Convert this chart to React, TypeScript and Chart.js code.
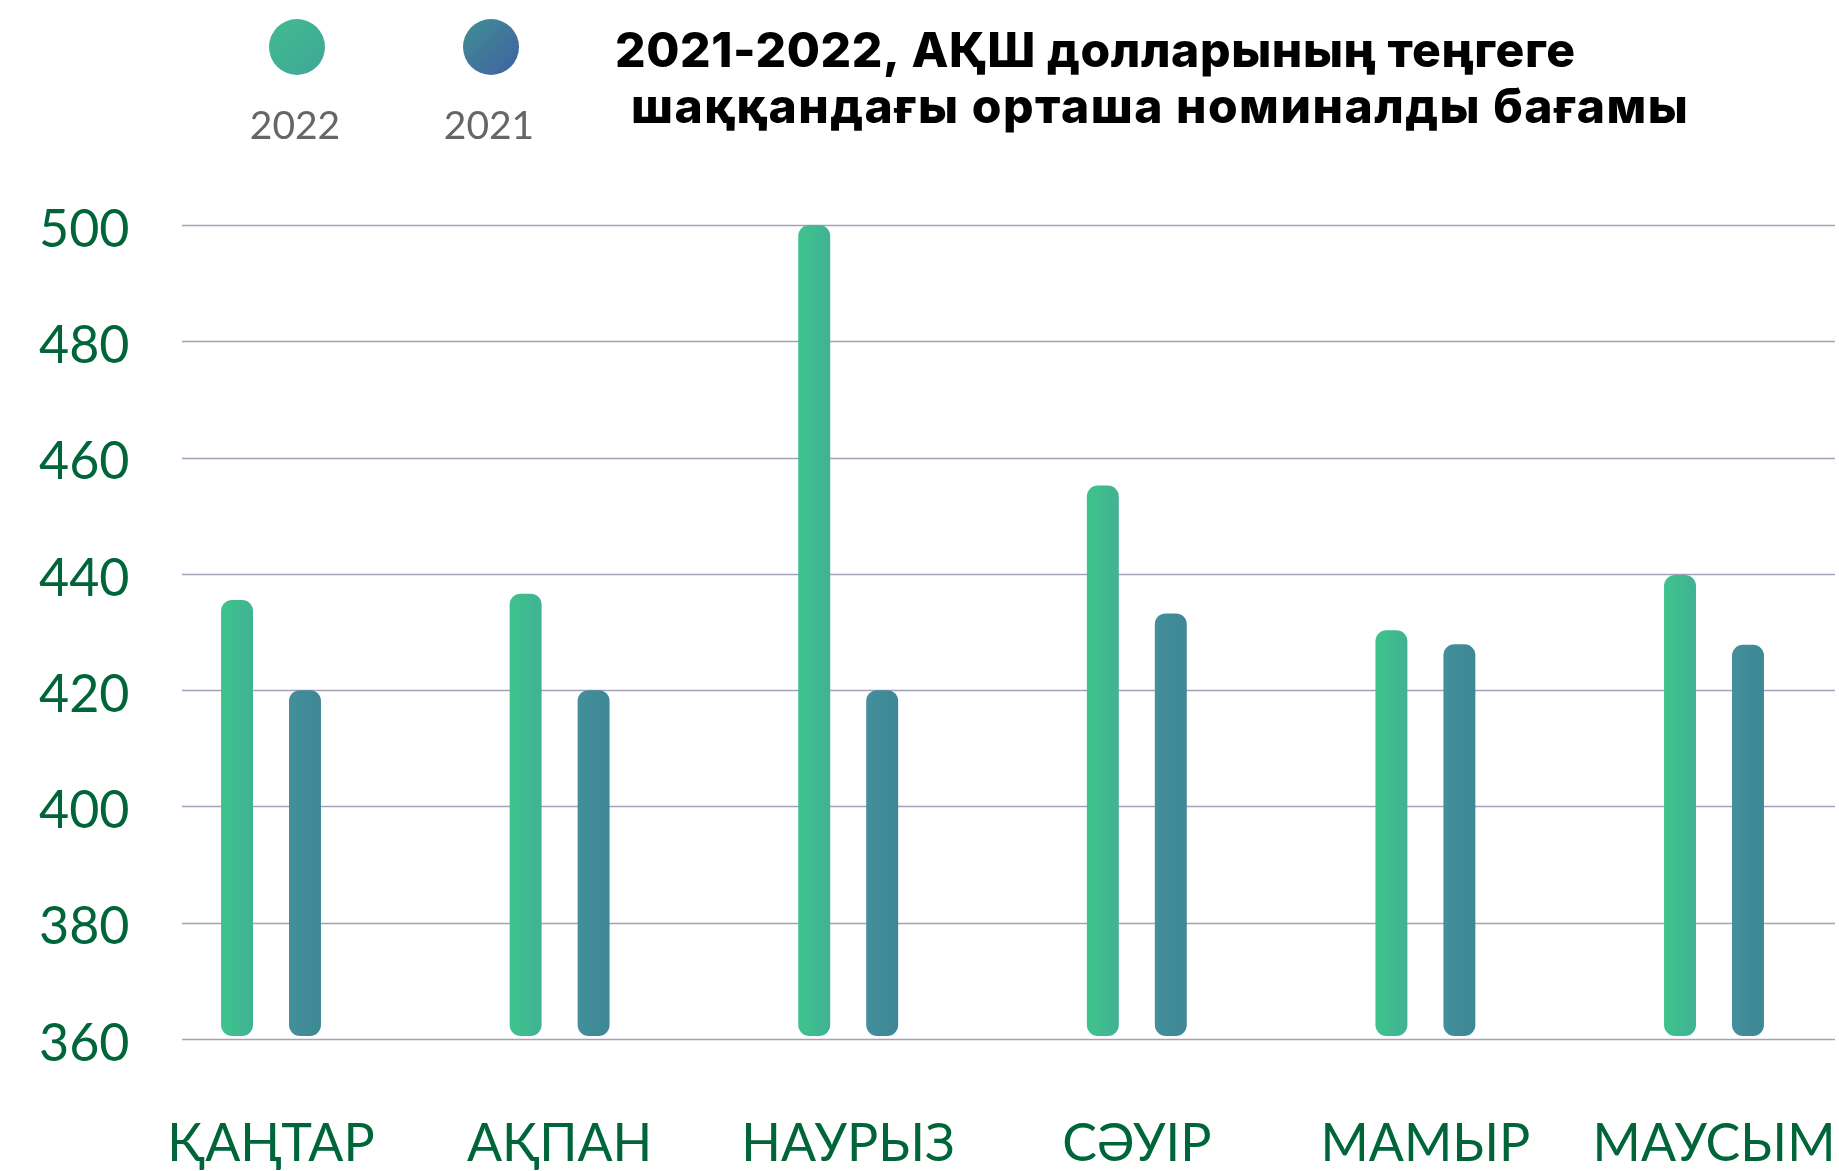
import React, { useEffect, useRef } from 'react';
import { Chart, registerables } from 'chart.js';

Chart.register(...registerables);

const categories = ['ҚАҢТАР', 'АҚПАН', 'НАУРЫЗ', 'СӘУІР', 'МАМЫР', 'МАУСЫМ'];
const seriesLabels = ['2022', '2021'];
const values2022 = [435.5, 436.6, 500, 455.2, 430.3, 439.8];
const values2021 = [420, 420, 420, 433.2, 427.9, 427.8];
const yMin = 360;
const yMax = 500;
const yStep = 20;
const titleLines = ['2021-2022, АҚШ долларының теңгеге', 'шаққандағы орташа номиналды бағамы'];

const GREEN = '#00663a';

const barFill = (c0: string, c1: string) => (ctx: any) => {
  const el = ctx.element;
  if (!el || !isFinite(el.x) || !isFinite(el.width)) return c0;
  const g = ctx.chart.ctx.createLinearGradient(el.x - el.width / 2, 0, el.x + el.width / 2, 0);
  g.addColorStop(0, c0);
  g.addColorStop(1, c1);
  return g;
};

const gridPlugin = {
  id: 'wideGrid',
  beforeDatasetsDraw(chart: any) {
    const { ctx } = chart;
    const y = chart.scales.y;
    ctx.save();
    ctx.strokeStyle = '#a5a1b9';
    ctx.lineWidth = 1.3;
    y.ticks.forEach((t: any) => {
      const py = Math.round(y.getPixelForValue(t.value)) + 0.5;
      ctx.beginPath();
      ctx.moveTo(182, py);
      ctx.lineTo(1835, py);
      ctx.stroke();
    });
    ctx.restore();
  },
};

const legendColors = [
  ['#41bb8d', '#40a69a'],
  ['#3f8f94', '#4160a2'],
];
const legendPos = [
  { x: 297, y: 47 },
  { x: 491, y: 47 },
];

const decorPlugin = {
  id: 'decor',
  afterDraw(chart: any) {
    const { ctx } = chart;
    ctx.save();
    // legend
    chart.data.datasets.forEach((ds: any, i: number) => {
      const p = legendPos[i];
      const r = 28;
      const g = ctx.createLinearGradient(p.x - r, p.y - r, p.x + r, p.y + r);
      g.addColorStop(0, legendColors[i][0]);
      g.addColorStop(1, legendColors[i][1]);
      ctx.fillStyle = g;
      ctx.beginPath();
      ctx.arc(p.x, p.y, r, 0, Math.PI * 2);
      ctx.fill();
      ctx.fillStyle = '#666666';
      ctx.font = '39px Lato';
      ctx.textAlign = 'center';
      ctx.textBaseline = 'alphabetic';
      ctx.fillText(ds.label, p.x - 2, 139);
    });
    // title
    ctx.fillStyle = '#000000';
    ctx.font = '800 48px Inter';
    ctx.textAlign = 'left';
    ctx.textBaseline = 'alphabetic';
    (ctx as any).letterSpacing = '0.6px';
    ctx.fillText(titleLines[0], 615, 67);
    (ctx as any).letterSpacing = '1.5px';
    ctx.fillText(titleLines[1], 631, 123);
    (ctx as any).letterSpacing = '0px';
    ctx.restore();
  },
};

export default function App() {
  const ref = useRef<HTMLCanvasElement>(null);
  useEffect(() => {
    const chart = new Chart(ref.current as HTMLCanvasElement, {
      type: 'bar',
      data: {
        labels: categories,
        datasets: [
          {
            label: seriesLabels[0],
            data: values2022,
            backgroundColor: barFill('#3ec38d', '#41b292'),
            borderRadius: 11,
            borderSkipped: false,
            categoryPercentage: 0.471,
            barPercentage: 0.47,
            base: yMin + 0.5,
            clip: false as any,
          } as any,
          {
            label: seriesLabels[1],
            data: values2021,
            backgroundColor: barFill('#438f9b', '#3e8795'),
            borderRadius: 11,
            borderSkipped: false,
            categoryPercentage: 0.471,
            barPercentage: 0.47,
            base: yMin + 0.5,
            clip: false as any,
          } as any,
        ],
      },
      options: {
        responsive: false,
        animation: false,
        devicePixelRatio: 1,
        layout: { padding: { left: 39, right: 125, top: 225, bottom: 0 } },
        plugins: {
          legend: { display: false },
          tooltip: { enabled: false },
          title: { display: false },
        },
        scales: {
          x: {
            type: 'category',
            offset: false,
            grid: { display: false, drawTicks: true, tickLength: 74 },
            border: { display: false },
            ticks: {
              color: GREEN,
              font: { family: 'Lato', size: 52 },
              padding: 0,
              maxRotation: 0,
              autoSkip: false,
            },
            afterFit: (s: any) => {
              s.height = 132;
            },
          },
          y: {
            min: yMin,
            max: yMax,
            grid: { display: false, drawTicks: false },
            border: { display: false },
            ticks: {
              stepSize: yStep,
              color: GREEN,
              font: { family: 'Lato', size: 52 },
              padding: 0,
              crossAlign: 'far',
              labelOffset: 5,
            },
            afterFit: (s: any) => {
              s.width = 232;
            },
          },
        },
      },
      plugins: [gridPlugin, decorPlugin],
    });
    chart.update();
    return () => chart.destroy();
  }, []);
  return (
    <div style={{ position: 'fixed', left: 0, top: 0, width: 1839, height: 1171, background: '#ffffff' }}>
      <canvas ref={ref} width={1839} height={1171} style={{ display: 'block' }} />
    </div>
  );
}
